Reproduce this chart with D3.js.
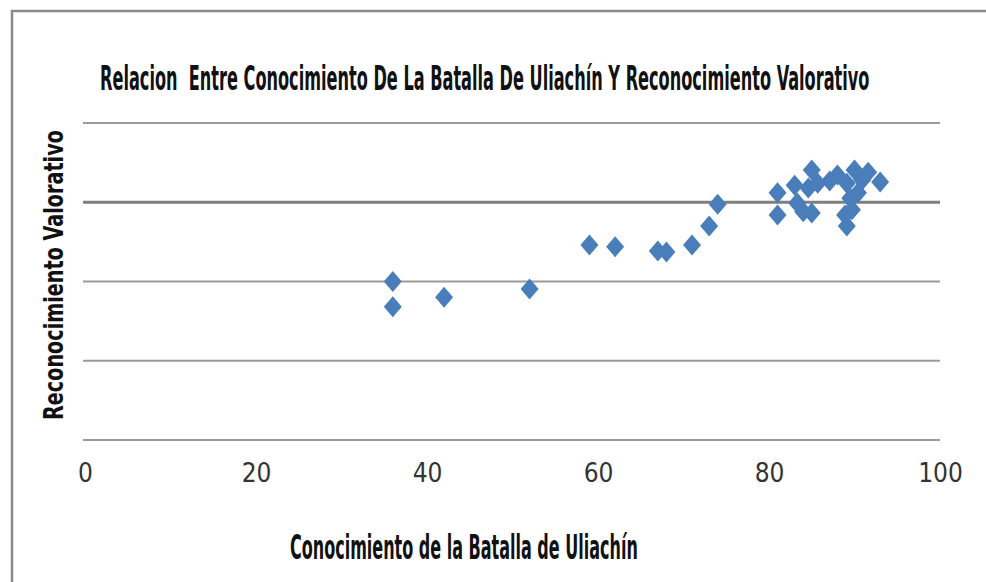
<!DOCTYPE html>
<html>
<head>
<meta charset="utf-8">
<script src="https://cdn.jsdelivr.net/npm/d3@7"></script>
<style>
  body { margin: 0; background: #fff; }
  svg { display: block; }
</style>
</head>
<body>
<div id="chart"></div>
<script>
// data
const conocimiento = [36, 36, 42, 52, 59, 62, 67, 68, 71, 73, 74,
                      81, 81, 83, 83.3, 84, 84.6, 85, 85, 85.7, 87.1, 88,
                      88.9, 89.1, 89.5, 89.1, 89.7, 90, 90.4, 90.9, 91.6, 93];
const valorativo = [50, 42, 45, 47.6, 61.5, 61, 59.6, 59.3, 61.5, 67.5, 74.4,
                    78, 71, 80.4, 74.8, 72, 79.5, 85.2, 71.6, 81, 81.7, 83.6,
                    71, 67.5, 76.3, 81, 72.6, 85.2, 78, 82, 84.5, 81.4];
const xTicks = [0, 20, 40, 60, 80, 100];
const yTicks = [0, 25, 50, 75, 100];

const titulo = "Relacion  Entre Conocimiento De La Batalla De Uliachín Y Reconocimiento Valorativo";
const tituloX = "Conocimiento de la Batalla de Uliachín";
const tituloY = "Reconocimiento Valorativo";

const width = 986, height = 582;
const svg = d3.select("#chart").append("svg")
    .attr("width", width)
    .attr("height", height);

// outer frame (only top and left visible)
svg.append("path")
    .attr("d", "M12,582 V11 H986")
    .attr("fill", "none")
    .attr("stroke", "#8c8c8c")
    .attr("stroke-width", 2.5);

const x = d3.scaleLinear().domain([0, 100]).range([85, 940]);
const y = d3.scaleLinear().domain([0, 100]).range([440, 123]);

// gridlines
svg.selectAll("line.grid")
    .data(yTicks)
    .enter().append("line")
    .attr("class", "grid")
    .attr("x1", 83)
    .attr("x2", 940)
    .attr("y1", d => y(d))
    .attr("y2", d => y(d))
    .style("stroke", d => d === 75 ? "#7f7f7f" : "#9a9a9a")
    .style("stroke-width", d => d === 75 ? 3 : 2);

// x tick labels
const xAxis = d3.axisBottom(x).tickValues(xTicks).tickSize(0).tickPadding(0);
const gx = svg.append("g")
    .attr("transform", "translate(0,464)")
    .call(xAxis);
gx.select(".domain").remove();
gx.selectAll("text")
    .attr("dy", "0.71em")
    .style("font-family", "'Liberation Sans Narrow', 'DejaVu Sans Condensed', sans-serif")
    .style("font-size", "26px")
    .style("fill", "#333");

// diamonds
const pts = conocimiento.map((c, i) => ({ c: c, v: valorativo[i] }));
svg.selectAll("path.pt")
    .data(pts)
    .enter().append("path")
    .attr("class", "pt")
    .attr("d", "M0,-10.5 L9,0 L0,10.5 L-9,0 Z")
    .attr("transform", d => `translate(${x(d.c)},${y(d.v)})`)
    .style("fill", "#4a7ebb");

const fontT = "'DejaVu Sans Condensed', 'DejaVu Sans', sans-serif";

// squeeze a label sideways so it spans the given width
function narrowText(txt, x0, y0, w, size, angle) {
    const t = svg.append("text")
        .style("font-family", fontT)
        .style("font-weight", "bold")
        .style("font-size", size + "px")
        .style("fill", "#111")
        .style("white-space", "pre")
        .text(txt);
    const sx = w / t.node().getComputedTextLength();
    t.attr("transform", `translate(${x0},${y0}) rotate(${angle}) scale(${sx},1)`);
    return t;
}

narrowText(titulo, 100, 90, 770, 33, 0);
narrowText(tituloX, 290, 559, 348, 33, 0);
narrowText(tituloY, 63, 420, 290, 26, -90);
</script>
</body>
</html>
